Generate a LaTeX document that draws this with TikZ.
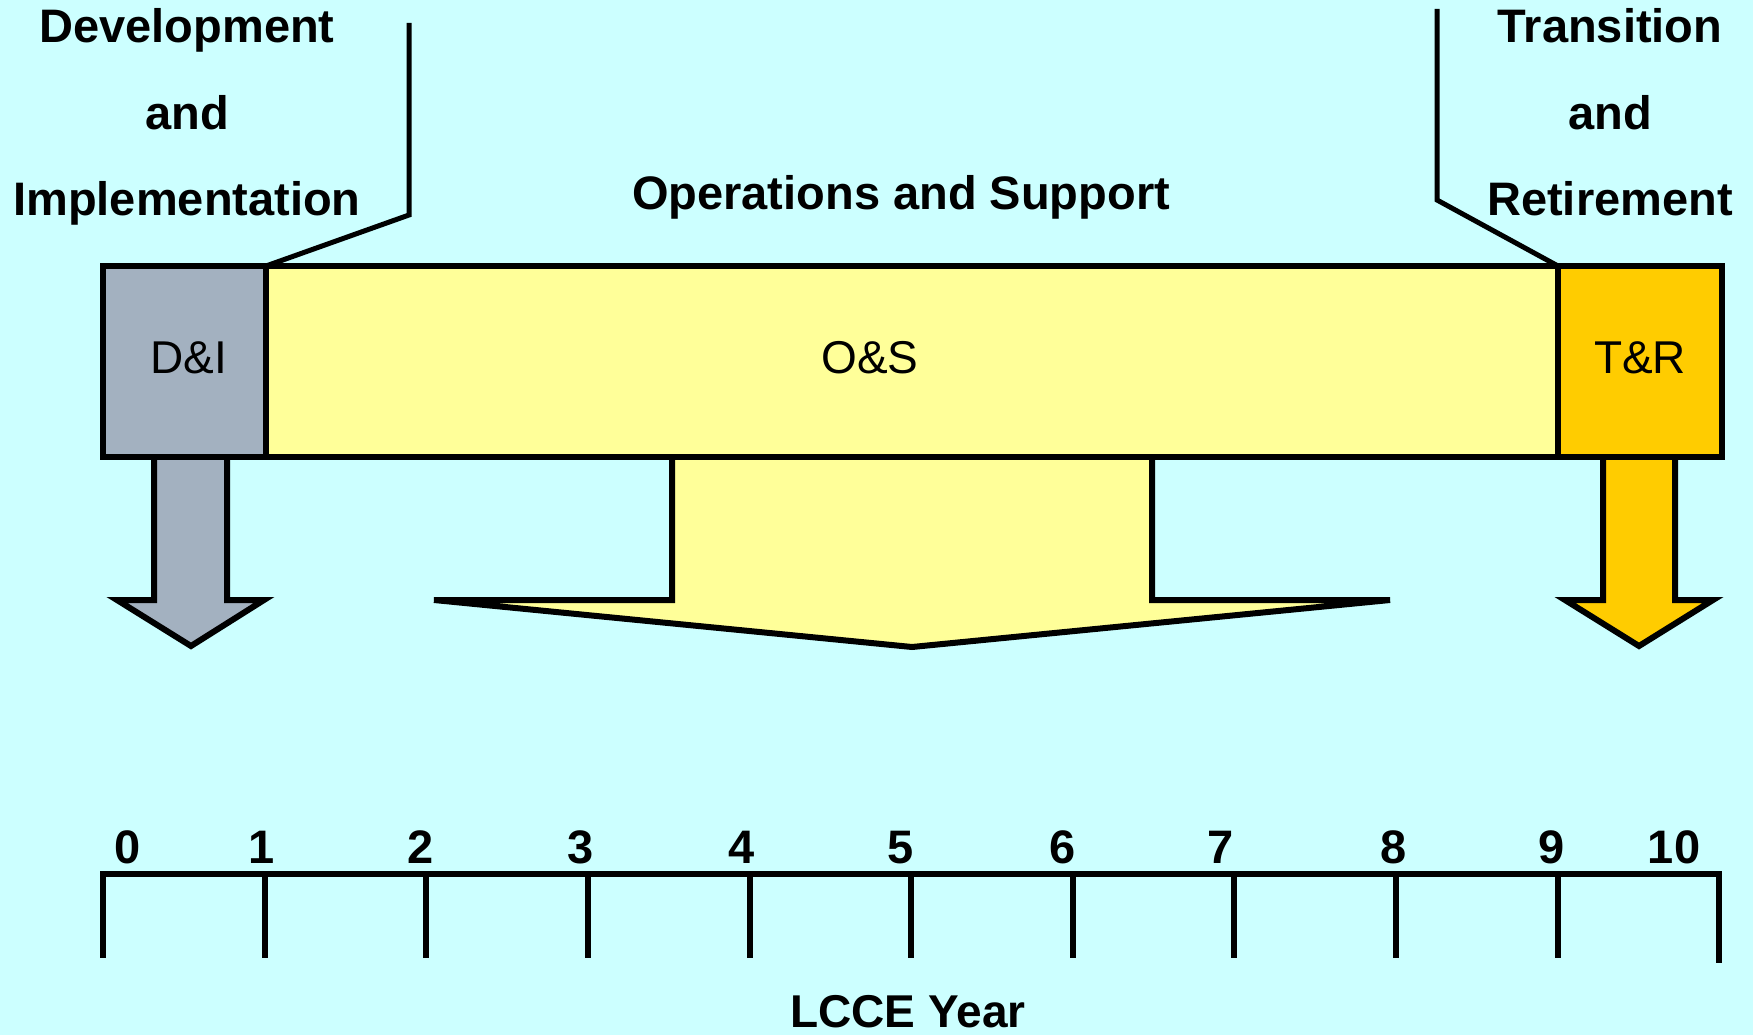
\documentclass[tikz,border=0pt]{standalone}
\usepackage{fontspec}
\setmainfont{Liberation Sans}
\definecolor{bgc}{HTML}{CCFFFF}
\definecolor{digray}{HTML}{A3B1C0}
\definecolor{osyel}{HTML}{FFFF99}
\definecolor{tror}{HTML}{FFCC00}
\begin{document}
\begin{tikzpicture}[x=1pt,y=-1pt,
  phase/.style={draw=black,line width=6.5pt,minimum height=191pt,inner sep=0pt,outer sep=0pt},
  bigarrow/.style={draw=black,line width=6pt,line join=miter},
  callout/.style={draw=black,line width=5pt,line join=miter},
  head/.style={font=\fontsize{47}{56}\selectfont\bfseries,anchor=base,inner sep=0pt},
  boxlabel/.style={font=\fontsize{46}{56}\selectfont,anchor=base,inner sep=0pt},
  num/.style={font=\fontsize{47}{56}\selectfont\bfseries,anchor=base,inner sep=0pt},
  tick/.style={draw=black,line width=5.5pt}]
\fill[bgc] (0,0) rectangle (1753,1035);
\useasboundingbox (0,0) rectangle (1753,1035);

% arrows (drawn first so the box border covers their tops)
\draw[bigarrow,fill=digray] (154,457) -- (154,600) -- (117,600) -- (191,646) -- (264,600) -- (227,600) -- (227,457);
\draw[bigarrow,fill=osyel] (672,457) -- (672,600) -- (434,600) -- (912,647) -- (1390,600) -- (1152,600) -- (1152,457);
\draw[bigarrow,fill=tror] (1603,457) -- (1603,600) -- (1565,600) -- (1639,646) -- (1713,600) -- (1675,600) -- (1675,457);

% phase boxes
\node[phase,fill=digray,minimum width=163pt] (di) at (184.5,361.5) {};
\node[phase,fill=osyel,minimum width=1292pt] (os) at (912,361.5) {};
\node[phase,fill=tror,minimum width=164pt] (tr) at (1640,361.5) {};
\node[boxlabel] (dil) at (189,373) {D\&I};
\node[boxlabel] (osl) at (870,373) {O\&S};
\node[boxlabel] (trl) at (1640,373) {T\&R};

% callouts
\coordinate (dibend) at (409,215);
\coordinate (ditop) at (409,23);
\coordinate (trbend) at (1437,200);
\coordinate (trtop) at (1437,9);
\draw[callout] (di.north east) -- (dibend) -- (ditop);
\draw[callout] (tr.north west) -- (trbend) -- (trtop);

% headings
\node[head] (dev1) at (187,43) {Development};
\node[head] (dev2) at (187,130) {and};
\node[head] (dev3) at (187,215) {Implementation};
\node[head] (ops) at (901,210) {Operations and Support};
\node[head] (tra1) at (1610,43) {Transition};
\node[head] (tra2) at (1610,130) {and};
\node[head] (tra3) at (1610,215) {Retirement};

% timeline
\coordinate (ax0) at (100,874);
\coordinate (ax1) at (1722,874);
\draw[draw=black,line width=6pt] (ax0) -- (ax1);
\foreach \i/\xx in {0/103,1/265,2/426,3/588,4/750,5/911,6/1073,7/1234,8/1396,9/1558}{
  \coordinate (t\i) at (\xx,874);
  \draw[tick] (t\i) -- ++(0,84);
}
\coordinate (t10) at (1719,874);
\draw[tick] (t10) -- ++(0,89);
\foreach \i/\xx in {0/128,1/262,2/421,3/581,4/742,5/901,6/1063,7/1221,8/1394,9/1552,10/1674}{
  \node[num] (n\i) at (\xx,863) {\i};
}
\node[head,font=\fontsize{46}{56}\selectfont\bfseries] (lcce) at (908,1027) {LCCE Year};
\end{tikzpicture}
\end{document}
